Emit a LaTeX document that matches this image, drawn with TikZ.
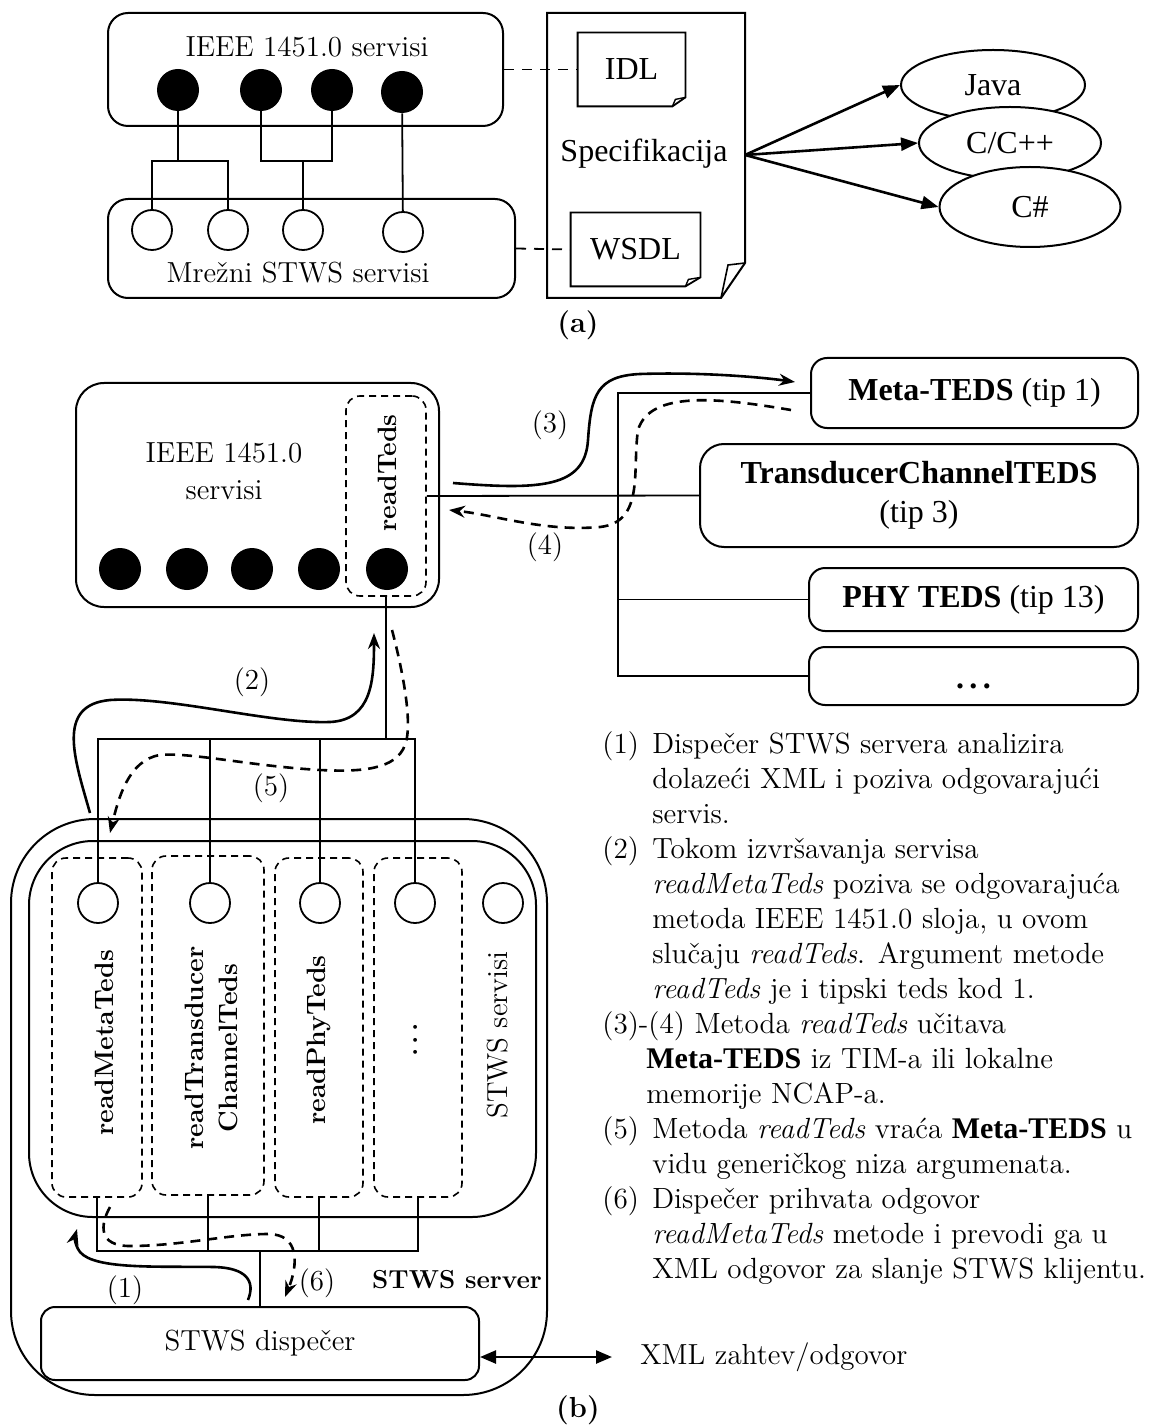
\documentclass[tikz,border=0pt]{standalone}
\usepackage{fontspec}
\newfontfamily\timesfont{Liberation Serif}
\usetikzlibrary{arrows.meta, calc, shapes.geometric}

\begin{document}
\begin{tikzpicture}[x=0.5pt, y=-0.5pt,
    box/.style={draw, line width=1pt, rounded corners=#1, inner sep=0pt},
    box/.default=10pt,
    dbox/.style={draw, line width=0.8pt, dash pattern=on 3.5pt off 2.5pt,
      rounded corners=7pt, inner sep=0pt},
    full/.style={circle, fill=black, minimum size=21pt, inner sep=0pt},
    hollow/.style={circle, draw, fill=white, line width=0.9pt,
      minimum size=20pt, inner sep=0pt},
    pal/.style={font=\fontsize{14.5}{17.5}\selectfont},
    tms/.style={font=\timesfont\fontsize{16}{19.5}\selectfont},
    vlab/.style={rotate=90, font=\bfseries\fontsize{13.3}{17}\selectfont},
    wire/.style={line width=0.9pt},
    flow/.style={line width=1.3pt, -{Stealth[length=8pt,width=6pt]}},
    back/.style={flow, dash pattern=on 5pt off 3.5pt},
    lang/.style={ellipse, draw, fill=white, line width=1pt, inner sep=0pt, tms},
    gen/.style={line width=1.3pt, -{Triangle[length=8.5pt,width=6.5pt]}}
  ]
  \useasboundingbox (0,0) rectangle (1156,1427);

  % (a) services and specification
  \node[box, minimum width=197.5pt, minimum height=56.5pt] (ieeeA) at (305.5,69.5) {};
  \node[pal] (ieeeAt) at (307,47) {IEEE 1451.0 servisi};
  \node[box, minimum width=203.5pt, minimum height=49.5pt] (stwsA) at (311.5,248.5) {};
  \node[pal] (stwsAt) at (298,273) {Mrežni STWS servisi};
  \foreach \x/\y [count=\i] in {178/90, 261/90, 332/90, 402/92}
    \node[full] (fa\i) at (\x,\y) {};
  \foreach \x/\y [count=\i] in {152/230, 228/230, 303/230, 403/232}
    \node[hollow] (oa\i) at (\x,\y) {};
  \coordinate (ja1) at (178,161);
  \coordinate (ja2) at (303,161);
  \draw[wire] (fa1.south) -- (ja1);
  \draw[wire] (oa1.north) |- (ja1) -| (oa2.north);
  \draw[wire] (fa2.south) |- (ja2) -| (fa3.south);
  \draw[wire] (ja2) -- (oa3.north);
  \draw[wire] (fa4) -- (oa4);

  % specification sheet
  \draw[line width=1pt] (547,13) -- (745,13) -- (745,263) -- (721,298) -- (547,298) -- cycle;
  \draw[line width=0.8pt] (745,263) -- (728,265) -- (721,298);
  \node[tms] (spec) at (644,154) {Specifikacija};
  \coordinate (specout) at (745,155);

  \node[tms, minimum width=53.5pt, minimum height=36.5pt, inner sep=0pt] (idl) at (631.5,69.5) {IDL};
  \draw[line width=0.9pt] (idl.north west) -- (idl.north east) -- ([yshift=4.5pt]idl.south east)
    -- ([xshift=-6.5pt]idl.south east) -- (idl.south west) -- cycle;
  \draw[line width=0.7pt] ([yshift=4.5pt]idl.south east) -- ([xshift=-5pt,yshift=3.5pt]idl.south east)
    -- ([xshift=-6.5pt]idl.south east);
  \node[tms, minimum width=64.5pt, minimum height=36.5pt, inner sep=0pt] (wsdl) at (635.5,249.5) {WSDL};
  \draw[line width=0.9pt] (wsdl.north west) -- (wsdl.north east) -- ([yshift=4.5pt]wsdl.south east)
    -- ([xshift=-7.5pt]wsdl.south east) -- (wsdl.south west) -- cycle;
  \draw[line width=0.7pt] ([yshift=4.5pt]wsdl.south east) -- ([xshift=-6pt,yshift=3.5pt]wsdl.south east)
    -- ([xshift=-7.5pt]wsdl.south east);
  \draw[line width=0.9pt, dash pattern=on 5pt off 4pt] (ieeeA.east) -- (idl.west);
  \draw[line width=0.9pt, dash pattern=on 5pt off 4pt] (stwsA.east) -- (wsdl.west);

  \node[lang, minimum width=92pt, minimum height=35pt] (java) at (993,85) {Java};
  \node[lang, minimum width=91pt, minimum height=36pt] (cpp) at (1010,143) {C/C++};
  \node[lang, minimum width=90.5pt, minimum height=40pt] (cs) at (1030,207) {C\#};
  \draw[gen] (specout) -- (java.west);
  \draw[gen] (specout) -- (cpp.west);
  \draw[gen] (specout) -- (cs.west);
  \node[font=\bfseries\fontsize{14.5}{17}\selectfont] (capa) at (578,325) {(a)};

  % (b) IEEE 1451.0 layer and TEDS
  \node[box=14pt, minimum width=181.5pt, minimum height=112pt] (ieeeB) at (257.5,495) {};
  \node[align=center, font=\fontsize{14.5}{18.5}\selectfont] (ieeeBt) at (224,471) {IEEE 1451.0\\servisi};
  \foreach \x [count=\i] in {120,187,252,319,387}
    \node[full] (fb\i) at (\x,569) {};
  \node[dbox, minimum width=40pt, minimum height=100pt] (rt) at (386,496) {};
  \node[vlab] (rtt) at (387,473) {readTeds};

  \node[box=8pt, minimum width=163.5pt, minimum height=35pt, tms] (meta) at (974.5,393)
    {\textbf{Meta-TEDS} (tip 1)};
  \node[box=12pt, minimum width=219pt, minimum height=51.5pt, align=center,
    font=\timesfont\fontsize{16}{19.5}\selectfont] (trans) at (919,495.5)
    {\textbf{TransducerChannelTEDS}\\(tip 3)};
  \node[box=8pt, minimum width=164.5pt, minimum height=31.5pt, tms] (phy) at (973.5,599.5)
    {\textbf{PHY TEDS} (tip 13)};
  \node[box=8pt, minimum width=164.5pt, minimum height=29pt, tms, text height=13pt,
    text depth=1pt] (more) at (973.5,676) {\textbf{.\,.\,.}};
  \coordinate (busend) at (618,676);
  \draw[wire] (meta.west) -| (busend) -- (more.west);
  \draw[wire] (rt.east) -- (trans.west);
  \draw[wire] (phy.west) -- (phy.west -| busend);

  % (b) STWS server
  \node[box=42pt, minimum width=268pt, minimum height=288pt] (server) at (279,1107) {};
  \node[box=32pt, minimum width=253.5pt, minimum height=188pt] (svc) at (282.5,1029) {};
  \node[dbox, minimum width=45pt, minimum height=169.5pt] (m1) at (97,1027.5) {};
  \node[dbox, minimum width=56pt, minimum height=169.5pt] (m2) at (208,1025.5) {};
  \node[dbox, minimum width=44pt, minimum height=169.5pt] (m3) at (319,1027.5) {};
  \node[dbox, minimum width=44pt, minimum height=169.5pt] (m4) at (418,1027.5) {};
  \foreach \x [count=\i] in {98,210,320,415,503}
    \node[hollow] (s\i) at (\x,903) {};
  \node[vlab] (m1t) at (104,1043) {readMetaTeds};
  \node[vlab, align=center] (m2t) at (211,1048) {readTransducer\\ChannelTeds};
  \node[vlab] (m3t) at (319,1040) {readPhyTeds};
  \node[vlab] (m4t) at (416,1040) {.\,.\,.};
  \node[pal, rotate=90] (svct) at (498,1035) {STWS servisi};

  \coordinate (tbus) at (0,739);
  \draw[wire] (s1.north) |- (s4.north |- tbus) -- (s4.north);
  \draw[wire] (s2.north) -- (s2.north |- tbus);
  \draw[wire] (s3.north) -- (s3.north |- tbus);
  \draw[wire] (rt.south) -- (rt.south |- tbus);

  \node[box=7pt, minimum width=219pt, minimum height=36.5pt, pal] (disp) at (260,1343.5) {STWS dispečer};
  \coordinate (bbus) at (0,1251);
  \draw[wire] (m1.south) |- (m4.south |- bbus) -- (m4.south);
  \draw[wire] (m2.south) -- (m2.south |- bbus);
  \draw[wire] (m3.south) -- (m3.south |- bbus);
  \draw[wire] (disp.north) -- (disp.north |- bbus);
  \node[font=\bfseries\fontsize{13}{16}\selectfont] (srvt) at (457,1280) {STWS server};

  \node[anchor=west, inner sep=0pt, pal] (xml) at (640,1357) {XML zahtev/odgovor};
  \draw[line width=1.2pt, {Triangle[length=8pt,width=6.5pt]}-{Triangle[length=8pt,width=6.5pt]}]
    (disp.east |- xml.west) -- ([xshift=-14pt]xml.west);

  % call flow
  \coordinate (c1a) at (248,1300);  \coordinate (c1b) at (77,1229);
  \coordinate (c2a) at (90,813);    \coordinate (c2b) at (374,633);
  \coordinate (c3a) at (453,483);   \coordinate (c3b) at (795,382);
  \coordinate (c4a) at (791,410);   \coordinate (c4b) at (449,510);
  \coordinate (c5a) at (392,630);   \coordinate (c5b) at (110,833);
  \coordinate (c6a) at (110,1207);  \coordinate (c6b) at (285,1297);
  \draw[flow] (c1a) .. controls (256,1280) and (245,1268) .. (215,1267)
    .. controls (160,1266) and (95,1270) .. (80,1252) .. controls (74,1244) and (75,1236) .. (c1b);
  \draw[flow] (c2a) .. controls (75,760) and (55,705) .. (110,700)
    .. controls (170,696) and (270,724) .. (330,722) .. controls (372,720) and (374,680) .. (c2b);
  \draw[flow] (c3a) .. controls (540,490) and (585,488) .. (588,440)
    .. controls (591,395) and (597,376) .. (640,374) .. controls (700,372) and (760,377) .. (c3b);
  \draw[back] (c4a) .. controls (720,398) and (650,390) .. (638,430)
    .. controls (632,470) and (645,522) .. (600,527) .. controls (545,532) and (495,515) .. (c4b);
  \draw[back] (c5a) .. controls (400,660) and (414,722) .. (405,745)
    .. controls (396,770) and (360,772) .. (320,770) .. controls (250,766) and (190,752) .. (160,755)
    .. controls (128,760) and (118,800) .. (c5b);
  \draw[back] (c6a) .. controls (100,1225) and (98,1246) .. (130,1246)
    .. controls (180,1246) and (230,1234) .. (268,1234) .. controls (300,1234) and (298,1265) .. (c6b);
  \node[pal] (l1) at (125,1290) {(1)};
  \node[pal] (l2) at (252,682) {(2)};
  \node[pal] (l3) at (550,425) {(3)};
  \node[pal] (l4) at (545,547) {(4)};
  \node[pal] (l5) at (271,788) {(5)};
  \node[pal] (l6) at (317,1283) {(6)};

  % legend
  \node[anchor=north west, inner sep=0pt, font=\fontsize{14.6}{17.5}\selectfont] (notes) at (602,729) {%
    \begin{tabular}{@{}p{25pt}@{}l@{}}
      (1) & Dispečer STWS servera analizira\\
          & dolazeći XML i poziva odgovarajući\\
          & servis.\\
      (2) & Tokom izvršavanja servisa\\
          & \textit{readMetaTeds} poziva se odgovarajuća\\
          & metoda IEEE 1451.0 sloja, u ovom\\
          & slučaju \textit{readTeds}. Argument metode\\
          & \textit{readTeds} je i tipski teds kod 1.\\
      \multicolumn{2}{@{}l@{}}{(3)-(4) Metoda \textit{readTeds} učitava}\\
          & \hspace*{-3pt}{\timesfont\bfseries\fontsize{15}{17.5}\selectfont Meta-TEDS} iz TIM-a ili lokalne\\
          & \hspace*{-3pt}memorije NCAP-a.\\
      (5) & Metoda \textit{readTeds} vraća {\timesfont\bfseries\fontsize{15}{17.5}\selectfont Meta-TEDS} u\\
          & vidu generičkog niza argumenata.\\
      (6) & Dispečer prihvata odgovor\\
          & \textit{readMetaTeds} metode i prevodi ga u\\
          & XML odgovor za slanje STWS klijentu.
    \end{tabular}};
  \node[font=\bfseries\fontsize{14.5}{17}\selectfont] (capb) at (578,1410) {(b)};
\end{tikzpicture}
\end{document}
